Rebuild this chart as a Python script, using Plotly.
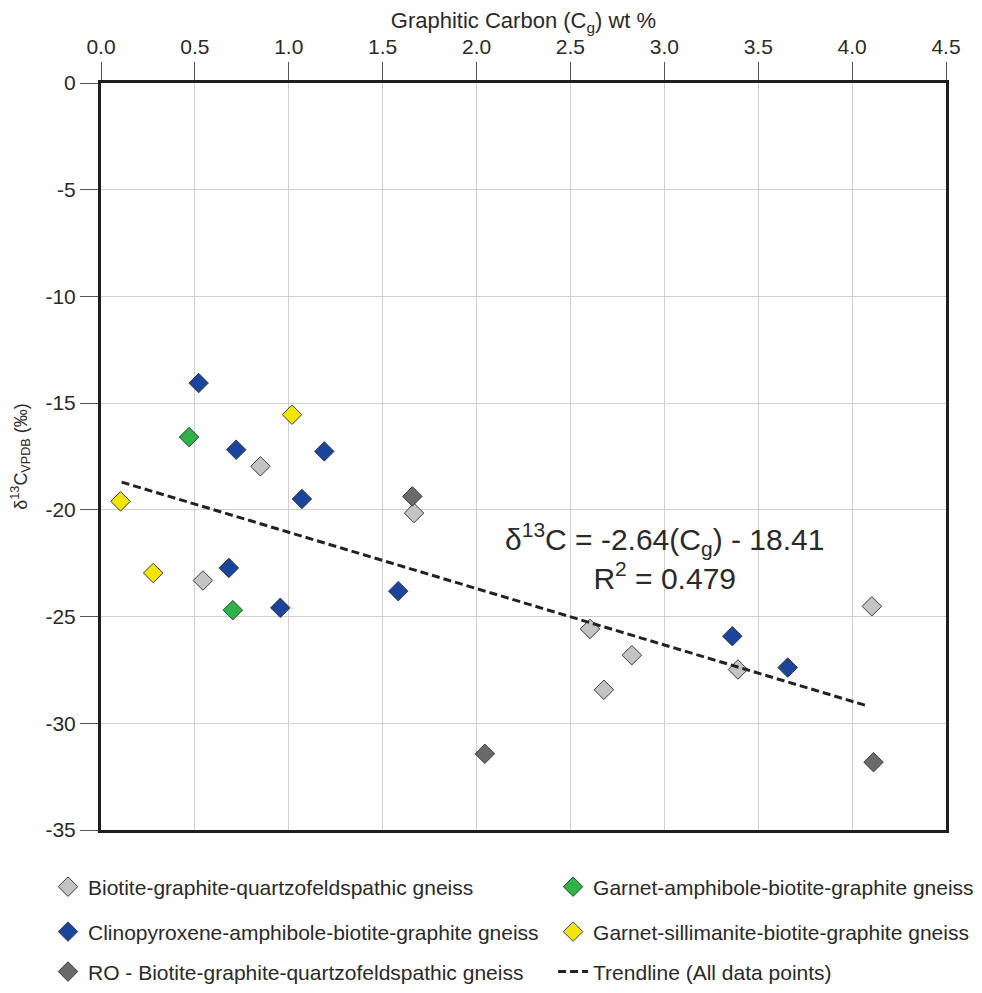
import plotly.graph_objects as go

# ---- data ----
bgq_x = [0.849, 1.667, 0.543, 2.604, 2.827, 2.678, 3.392, 4.105]
bgq_y = [-17.96, -20.15, -23.31, -25.58, -26.81, -28.43, -27.48, -24.52]

gab_x = [0.469, 0.702]
gab_y = [-16.59, -24.70]

cpx_x = [0.520, 0.720, 1.189, 1.070, 0.681, 0.955, 1.583, 3.362, 3.657]
cpx_y = [-14.06, -17.18, -17.26, -19.49, -22.72, -24.59, -23.81, -25.92, -27.39]

gsb_x = [1.017, 0.104, 0.278]
gsb_y = [-15.54, -19.60, -22.96]

ro_x = [1.658, 2.044, 4.114]
ro_y = [-19.37, -31.43, -31.82]

trend_slope = -2.64
trend_intercept = -18.41
trend_x = [0.11, 4.07]
trend_y = [trend_slope * v + trend_intercept for v in trend_x]

x_ticks = [0.0, 0.5, 1.0, 1.5, 2.0, 2.5, 3.0, 3.5, 4.0, 4.5]
y_ticks = [0, -5, -10, -15, -20, -25, -30, -35]

FONT = "Liberation Sans, Arial, Helvetica, sans-serif"
TXT = "#2a2a2a"
MLINE = dict(color="#3a3a3a", width=1)
MSIZE = 15

fig = go.Figure()

def add_series(x, y, name, color, legend):
    fig.add_trace(go.Scatter(
        x=x, y=y, mode="markers", name=name, legend=legend, showlegend=True,
        marker=dict(symbol="diamond", size=MSIZE, color=color, line=MLINE),
    ))

add_series(bgq_x, bgq_y, "Biotite-graphite-quartzofeldspathic gneiss", "#c3c3c5", "legend")
add_series(gab_x, gab_y, "Garnet-amphibole-biotite-graphite gneiss", "#2db34a", "legend2")
add_series(cpx_x, cpx_y, "Clinopyroxene-amphibole-biotite-graphite gneiss", "#1b449c", "legend3")
add_series(gsb_x, gsb_y, "Garnet-sillimanite-biotite-graphite gneiss", "#f2e600", "legend4")
add_series(ro_x, ro_y, "RO - Biotite-graphite-quartzofeldspathic gneiss", "#6a6a6a", "legend5")

fig.add_trace(go.Scatter(
    x=trend_x, y=trend_y, mode="lines", name="Trendline (All data points)",
    legend="legend6", showlegend=True,
    line=dict(color="#222222", width=3, dash="8px,4px"),
))

fig.add_annotation(
    x=3.0, y=-22.2, xref="x", yref="y", showarrow=False,
    text="δ<sup>13</sup>C = -2.64(C<sub>g</sub>) - 18.41<br>R<sup>2</sup> = 0.479",
    font=dict(family=FONT, size=30, color=TXT), align="center",
)

def leg(x, y):
    return dict(
        x=x, y=y, orientation="v", xanchor="left", yanchor="middle",
        font=dict(family=FONT, size=21, color=TXT), visible=True,
        bgcolor="rgba(0,0,0,0)", itemclick=False, itemdoubleclick=False,
    )

C1, C2 = -0.0627, 0.535
R1, R2, R3 = -0.0763, -0.1365, -0.1900

TICKFONT = dict(family=FONT, size=21, color=TXT)

fig.update_layout(
    width=966, height=977,
    margin=dict(l=93, r=28, t=75, b=155, autoexpand=False),
    plot_bgcolor="white", paper_bgcolor="white",
    showlegend=True,
    font=dict(family=FONT, size=21, color=TXT),
    legend=leg(C1, R1), legend2=leg(C2, R1),
    legend3=leg(C1, R2), legend4=leg(C2, R2),
    legend5=leg(C1, R3), legend6=leg(C2, R3),
    xaxis=dict(
        side="top", range=[0, 4.5], tickvals=x_ticks,
        ticktext=[f"{v:.1f}" for v in x_ticks],
        showgrid=True, gridcolor="#cfcfcf", gridwidth=1,
        zeroline=False, automargin=False,
        showline=True, linecolor="#1e1e1e", linewidth=3, mirror=True,
        ticks="outside", ticklen=18, tickcolor="#555555", tickwidth=1,
        tickfont=TICKFONT,
        title=dict(text="Graphitic Carbon (C<sub>g</sub>) wt %",
                   font=dict(family=FONT, size=22, color=TXT)),
    ),
    yaxis=dict(
        range=[-35, 0], tickvals=y_ticks,
        ticktext=[str(v) for v in y_ticks],
        showgrid=True, gridcolor="#cfcfcf", gridwidth=1,
        zeroline=False, automargin=False,
        showline=True, linecolor="#1e1e1e", linewidth=3, mirror=True,
        ticks="outside", ticklen=18, tickcolor="#555555", tickwidth=1,
        tickfont=TICKFONT,
        title=dict(text="δ<sup>13</sup>C<sub>VPDB</sub> (‰)",
                   font=dict(family=FONT, size=18, color=TXT)),
    ),
)

fig.write_html("out.html")
